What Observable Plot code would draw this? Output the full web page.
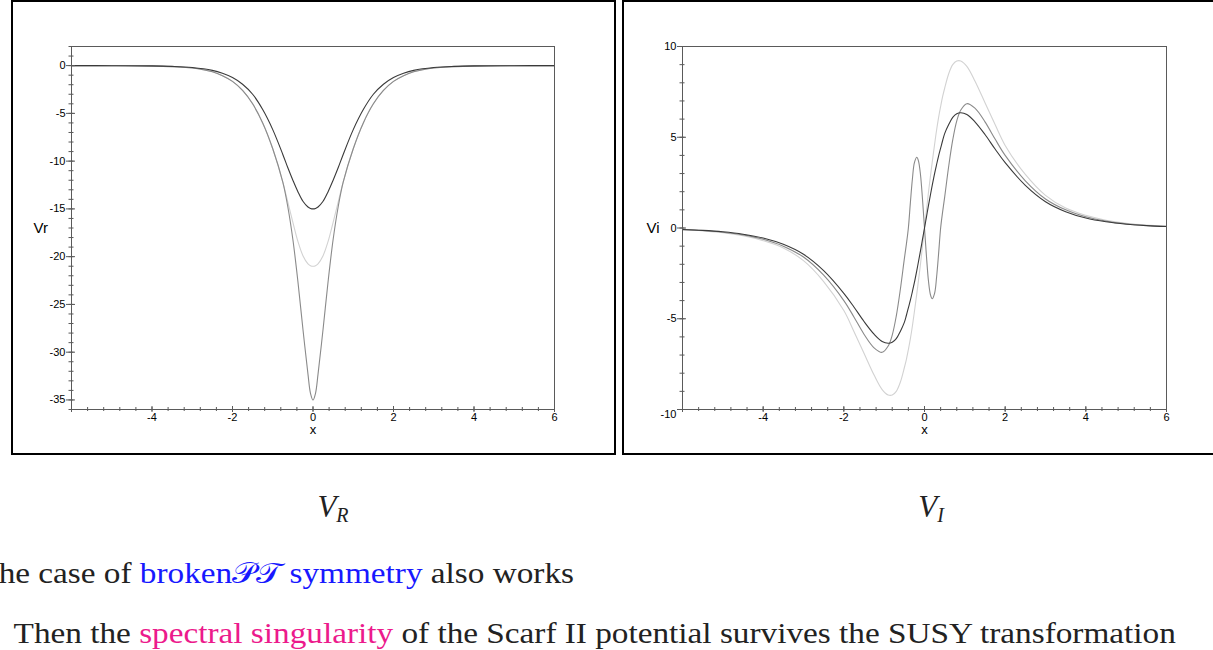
<!DOCTYPE html>
<html><head><meta charset="utf-8">
<script src="https://cdn.jsdelivr.net/npm/d3@7"></script>
<script src="https://cdn.jsdelivr.net/npm/@observablehq/plot@0.6"></script>
<style>
html,body{margin:0;padding:0;background:#fff;width:1213px;height:650px;overflow:hidden;}
#page{position:relative;width:1213px;height:650px;overflow:hidden;background:#fff;}
.box{position:absolute;box-sizing:border-box;border:2px solid #000;}
.chart{position:absolute;top:0;}
#captions{position:absolute;left:0;top:0;}
</style></head><body>
<div id="page">
  <div class="box" style="left:11px;top:0;width:605px;height:455px"></div>
  <div class="box" style="left:622px;top:0;width:700px;height:455px"></div>
  <div id="left" class="chart" style="left:0px"></div>
  <div id="right" class="chart" style="left:620px"></div>
  <svg id="captions" width="1213" height="650"></svg>
</div>
<script>
// ---------- Data: left panel (V_R) ----------
const xR = [-6,-5,-4,-3.5,-3,-2.5,-2.25,-2,-1.75,-1.5,-1.25,-1,-0.75,-0.625,-0.5,-0.375,-0.25,-0.125,-0.0625,0,0.0625,0.125,0.25,0.375,0.5,0.625,0.75,1,1.25,1.5,1.75,2,2.25,2.5,3,3.5,4,5,6];
const vrDark  = [0,-0.01,-0.03,-0.08,-0.2,-0.5,-0.8,-1.25,-1.95,-3.0,-4.6,-6.7,-9.3,-10.7,-12.0,-13.2,-14.2,-14.8,-14.95,-15,-14.95,-14.8,-14.2,-13.2,-12.0,-10.7,-9.3,-6.7,-4.6,-3.0,-1.95,-1.25,-0.8,-0.5,-0.2,-0.08,-0.03,-0.01,0];
const vrLight = [0,-0.01,-0.05,-0.12,-0.25,-0.65,-1.05,-1.65,-2.6,-4.0,-6.0,-8.7,-12.2,-14.3,-16.4,-18.4,-19.9,-20.75,-20.94,-21,-20.94,-20.75,-19.9,-18.4,-16.4,-14.3,-12.2,-8.7,-6.0,-4.0,-2.6,-1.65,-1.05,-0.65,-0.25,-0.12,-0.05,-0.01,0];
const vrGray  = [0,-0.01,-0.05,-0.12,-0.25,-0.65,-1.05,-1.65,-2.6,-4.0,-6.0,-8.7,-12.2,-14.8,-18.2,-22.6,-27.6,-32.3,-34.3,-35,-34.3,-32.3,-27.6,-22.6,-18.2,-14.8,-12.2,-8.7,-6.0,-4.0,-2.6,-1.65,-1.05,-0.65,-0.25,-0.12,-0.05,-0.01,0];

// ---------- Data: right panel (V_I) ----------
const xI = [-6,-5.5,-5,-4.5,-4,-3.5,-3,-2.5,-2,-1.75,-1.5,-1.25,-1.05,-0.9,-0.8,-0.7,-0.6,-0.5,-0.45,-0.4,-0.35,-0.3,-0.25,-0.19,-0.15,-0.1,-0.05,0,0.05,0.1,0.15,0.19,0.25,0.3,0.35,0.4,0.45,0.5,0.6,0.7,0.8,0.9,1.05,1.25,1.5,1.75,2,2.5,3,3.5,4,4.5,5,5.5,6];
const viDark  = [-0.08,-0.13,-0.21,-0.34,-0.55,-0.9,-1.45,-2.35,-3.6,-4.35,-5.15,-5.85,-6.25,-6.35,-6.3,-6.1,-5.7,-5.2,-4.82,-4.4,-3.98,-3.5,-3.0,-2.33,-1.86,-1.26,-0.63,0,0.63,1.26,1.86,2.33,3.0,3.5,3.98,4.4,4.82,5.2,5.7,6.1,6.3,6.35,6.25,5.85,5.15,4.35,3.6,2.35,1.45,0.9,0.55,0.34,0.21,0.13,0.08];
const viGray  = [-0.09,-0.14,-0.23,-0.38,-0.62,-1.0,-1.6,-2.6,-4.0,-4.9,-5.85,-6.6,-6.85,-6.5,-5.9,-4.85,-3.4,-1.7,-0.9,0,1.4,2.7,3.6,3.9,3.7,2.95,1.6,0,-1.6,-2.95,-3.7,-3.9,-3.6,-2.7,-1.4,0,0.9,1.7,3.4,4.85,5.9,6.5,6.85,6.6,5.85,4.9,4.0,2.6,1.6,1.0,0.62,0.38,0.23,0.14,0.09];
const viLight = [-0.1,-0.16,-0.26,-0.43,-0.7,-1.1,-1.8,-2.95,-4.55,-5.7,-6.9,-8.1,-8.9,-9.2,-9.2,-9.0,-8.5,-7.7,-7.25,-6.7,-6.1,-5.4,-4.6,-3.6,-2.9,-2.0,-1.0,0,1.0,2.0,2.9,3.6,4.6,5.4,6.1,6.7,7.25,7.7,8.5,9.0,9.2,9.2,8.9,8.1,6.9,5.7,4.55,2.95,1.8,1.1,0.7,0.43,0.26,0.16,0.1];

// ---------- Ticks ----------
const xMajor = [-4,-2,0,2,4,6];
const xMajorTicks = [-6,-4,-2,0,2,4,6];
const xMinor = d3.range(-5.6, 5.7, 0.4);
const yMajorR = [-35,-30,-25,-20,-15,-10,-5,0];
const yMinorR = d3.range(-36, 2.5, 1);
const yMajorI = [-10,-5,0,5,10];
const yMinorI = d3.range(-10, 10.5, 1);

// ---------- Text ----------
const yLabelR = "Vr", yLabelI = "Vi", xLabel = "x";

const axisColor = "#5a5a5a";
const colors = {dark: "#3a3a3a", gray: "#8a8a8a", light: "#d2d2d2"};

function panel({xs, series, yDomain, yMinor, yMajor, yLabel, width, marginLeft, marginRight, labelDx}) {
  const yBottom = yDomain[0];
  return Plot.plot({
    width, height: 455, marginLeft, marginRight, marginTop: 46, marginBottom: 46,
    x: {domain: [-6, 6]},
    y: {domain: yDomain},
    style: {background: "transparent", fontFamily: "'Liberation Sans', Arial, sans-serif", fontSize: "11px", color: "#000", overflow: "visible"},
    marks: [
      ...series.map(s => Plot.line(xs.map((x, i) => ({x, v: s.values[i]})), {x: "x", y: "v", stroke: s.color, strokeWidth: 1.1, curve: "catmull-rom"})),
      Plot.frame({stroke: axisColor}),
      Plot.axisX(xMinor, {tickSize: 4, dy: -2, tickFormat: () => "", stroke: axisColor, label: null}),
      Plot.axisX(xMajorTicks, {tickSize: 6, dy: -3, tickFormat: () => "", stroke: axisColor, label: null}),
      Plot.axisX(xMajor, {tickSize: 0, tickPadding: 4, tickFormat: d => String(d), label: null, fill: "#000"}),
      Plot.axisY(yMinor, {tickSize: 5, dx: 2.5, tickFormat: () => "", stroke: axisColor, label: null}),
      Plot.axisY(yMajor, {tickSize: 9, dx: 4, tickFormat: () => "", stroke: axisColor, label: null}),
      Plot.axisY(yMajor.filter(d => d !== yBottom), {tickSize: 0, tickPadding: 6, tickFormat: d => String(d), label: null, fill: "#000"}),
      Plot.axisY(yMajor.filter(d => d === yBottom), {tickSize: 0, tickPadding: 6, dy: 5, tickFormat: d => String(d), label: null, fill: "#000"}),
      Plot.text([xLabel], {text: d => d, frameAnchor: "bottom", dy: 24, fontSize: 13, fill: "#000"}),
      Plot.text([yLabel], {text: d => d, frameAnchor: "left", dx: labelDx, fontSize: 15, fill: "#000"})
    ]
  });
}

document.getElementById("left").appendChild(panel({
  xs: xR,
  series: [{values: vrLight, color: colors.light}, {values: vrGray, color: colors.gray}, {values: vrDark, color: colors.dark}],
  yDomain: [-36, 2], yMinor: yMinorR, yMajor: yMajorR, yLabel: yLabelR,
  width: 614, marginLeft: 71, marginRight: 60, labelDx: -38
}));
document.getElementById("right").appendChild(panel({
  xs: xI,
  series: [{values: viLight, color: colors.light}, {values: viGray, color: colors.gray}, {values: viDark, color: colors.dark}],
  yDomain: [-10, 10], yMinor: yMinorI, yMajor: yMajorI, yLabel: yLabelI,
  width: 593, marginLeft: 62, marginRight: 47, labelDx: -36
}));

// ---------- Captions ----------
const cap = d3.select("#captions");
const serif = "'Liberation Serif','Times New Roman',serif";
const ink = "#222", blue = "#1818ff", pink = "#ec1a8c";
function vlabel(x, sub) {
  const t = cap.append("text").attr("x", x).attr("y", 517).attr("text-anchor", "middle")
    .attr("font-family", serif).attr("font-size", 31).attr("fill", ink);
  t.append("tspan").attr("font-style", "italic").text("V");
  t.append("tspan").attr("font-style", "italic").attr("font-size", 20).attr("dy", 5).text(sub);
}
vlabel(333, "R");
vlabel(931, "I");

const l2 = cap.append("text").attr("x", 0).attr("y", 0)
  .attr("font-family", serif).attr("font-size", 29).attr("fill", ink);
l2.append("tspan").text("Then the ");
l2.append("tspan").attr("fill", pink).text("spectral singularity");
l2.append("tspan").text(" of the Scarf II potential survives the SUSY transformation");
const sx = 1163 / l2.node().getComputedTextLength();
l2.attr("transform", `translate(13.6,643) scale(${sx},1)`);

const l1 = cap.append("text").attr("x", 0).attr("y", 0).attr("text-anchor", "end")
  .attr("font-family", serif).attr("font-size", 29).attr("fill", ink);
l1.append("tspan").text("The case of ");
l1.append("tspan").attr("fill", blue).text("broken\u{1D4AB}\u{1D4AF} symmetry");
l1.append("tspan").text(" also works");
l1.attr("transform", `translate(574,583) scale(${sx},1)`);
</script>
</body></html>
